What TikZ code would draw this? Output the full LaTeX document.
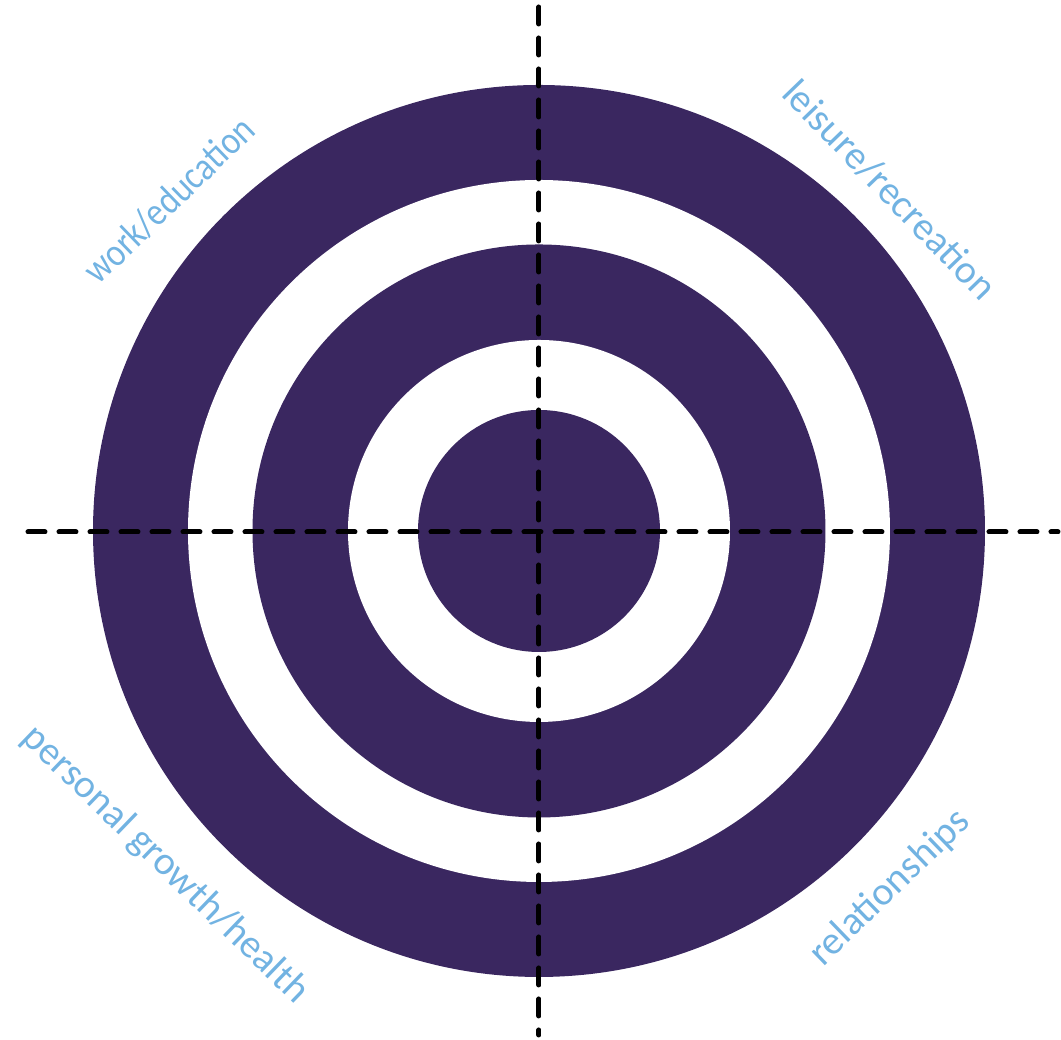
\documentclass[tikz,border=0pt]{standalone}
\usepackage{fontspec}
\setmainfont{Carlito}
\usepackage{tikz}
\usetikzlibrary{positioning}
\definecolor{TgPurple}{HTML}{3A2760}
\definecolor{TgBlue}{HTML}{72B3E2}
\tikzset{
  tgRing/.style={
    circle, draw=none, fill=#1, inner sep=0pt, minimum size=2*\tgR cm
  },
  tgRing/.default=TgPurple,
  tgAxis/.style={draw=black, line width=0.05cm, line cap=round,
    dash pattern=on 0.17cm off 0.14cm},
  tgLabel/.style={text=TgBlue, font=\fontsize{11.3}{13}\selectfont, inner sep=0pt}
}

\begin{document}
\begin{tikzpicture}
  \useasboundingbox (0,0) rectangle (10.61,10.40);
  \coordinate (c) at (5.39,5.09);

  % target rings, outside in
  \def\tgR{4.46}
  \node[tgRing] (outer) at (c) {};
  \def\tgR{3.51}
  \node[tgRing=white] (gapOuter) at (c) {};
  \def\tgR{2.865}
  \node[tgRing] (middle) at (c) {};
  \def\tgR{1.91}
  \node[tgRing=white] (gapInner) at (c) {};
  \def\tgR{1.21}
  \node[tgRing] (bull) at (c) {};

  % quadrant axes
  \coordinate (axTop) at (5.39,10.33);
  \coordinate (axBottom) at (5.39,0.05);
  \coordinate (axLeft) at (0.28,5.08);
  \coordinate (axRight) at (10.58,5.08);
  \draw[tgAxis] (axTop) -- (axBottom);
  \draw[tgAxis] (axLeft) -- (axRight);

  % quadrant labels
  \node[tgLabel, rotate=44, xscale=0.86] (work) at (1.69,8.40) {work/education};
  \node[tgLabel, rotate=-46] (leisure) at (8.90,8.50) {leisure/recreation};
  \node[tgLabel, rotate=-44] (personal) at (1.65,1.75) {personal growth/health};
  \node[tgLabel, rotate=44] (relations) at (8.90,1.52) {relationships};
\end{tikzpicture}
\end{document}
